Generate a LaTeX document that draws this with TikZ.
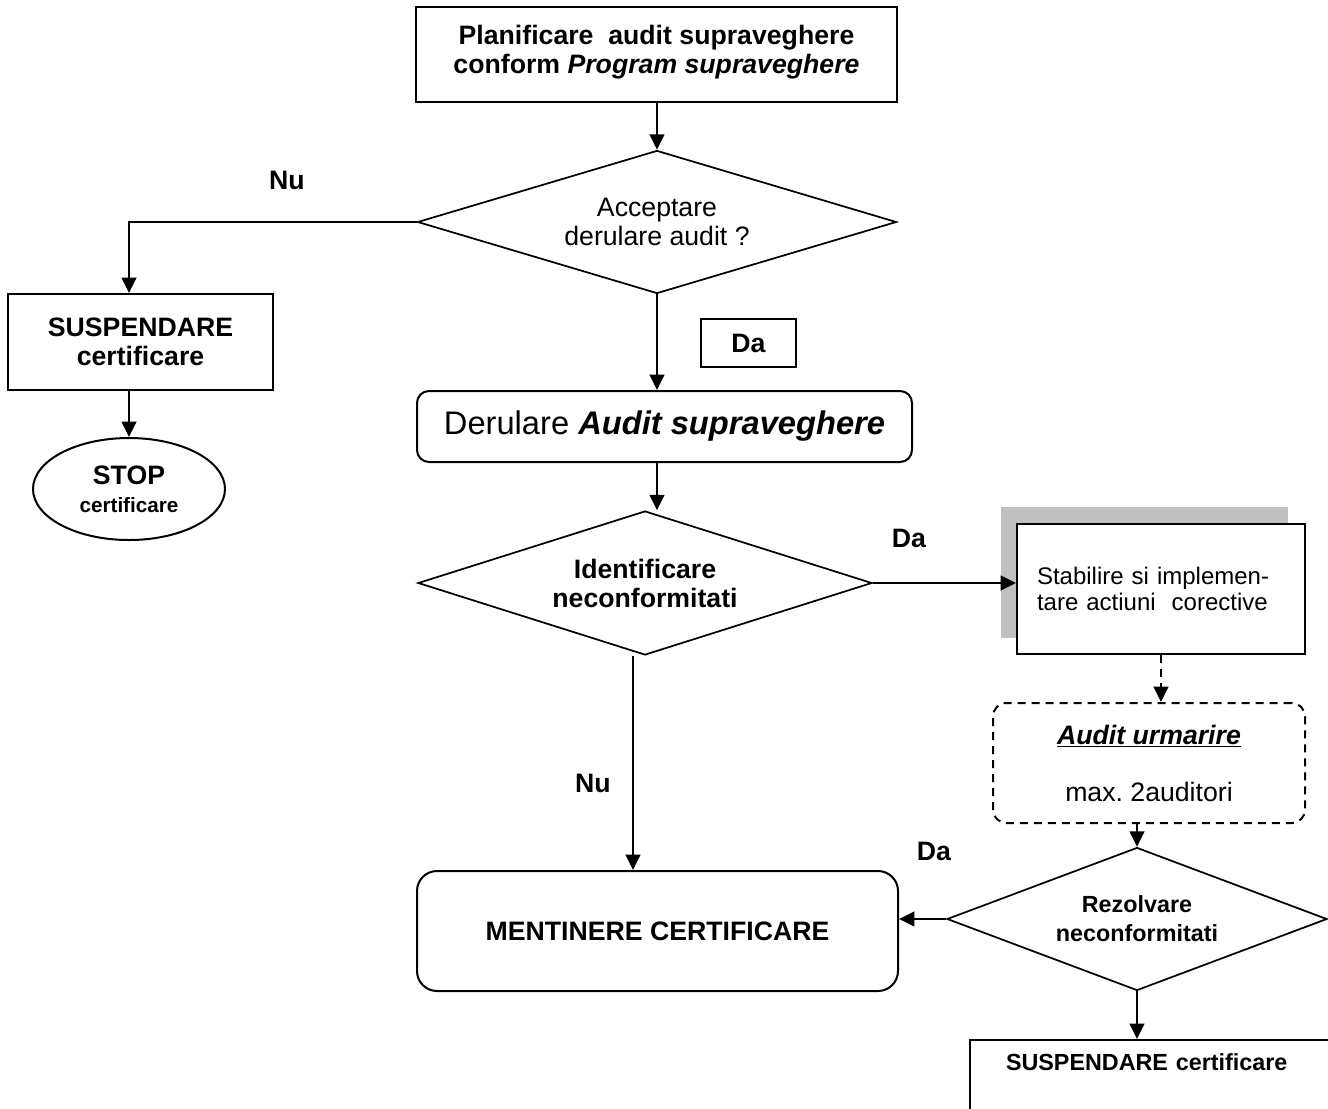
\documentclass[tikz,border=0pt]{standalone}
\usepackage{fontspec}
\setmainfont{Liberation Sans}
\usetikzlibrary{shapes.geometric,arrows.meta}
\newcommand\pxu{0.75pt}
\definecolor{shadowgray}{HTML}{C0C0C0}
\frenchspacing
\begin{document}
\begin{tikzpicture}[x=0.75pt,y=-0.75pt,
  every node/.style={font=\fontsize{20pt}{21.75pt}\selectfont, inner sep=0pt},
  thick line/.style={line width=1.5pt},
  arr/.style={line width=1.5pt,-{Triangle[length=11.5pt,width=11pt]}},
  boxr/.style={draw,line width=1.5pt,rectangle,align=center},
  dia/.style={draw,line width=1.3pt,diamond,align=center,aspect=3},
  bold/.style={font=\bfseries\fontsize{20pt}{21.75pt}\selectfont},
  boldsmall/.style={font=\bfseries\fontsize{17.5pt}{21.75pt}\selectfont},
  lbl/.style={bold}
]
\useasboundingbox (0,0) rectangle (1328,1108);
\fill[white] (0,0) rectangle (1328,1108);

% top box
\node[boxr, bold, minimum width=481*\pxu, minimum height=95*\pxu] (top) at (656.5,54)
  {Planificare\ \ audit supraveghere\\conform \textit{Program supraveghere}\\[-15pt]\mbox{}};

% decision 1
\node[dia, minimum width=479*\pxu, minimum height=143*\pxu] (d1) at (657,222)
  {Acceptare\\derulare audit ?};

% left branch
\node[boxr, bold, minimum width=265*\pxu, minimum height=96*\pxu] (s1) at (140.5,342)
  {SUSPENDARE\\certificare};
\node[draw, thick line, ellipse, minimum width=192*\pxu, minimum height=102*\pxu, align=center] (e1) at (129,489)
  {{\bfseries STOP}\\[-1pt]{\bfseries\fontsize{15.5pt}{17pt}\selectfont certificare}};

% Da box
\node[boxr, bold, minimum width=95*\pxu, minimum height=48*\pxu] (dabox) at (748.5,343) {Da};

% Derulare
\node[draw, thick line, rounded corners=9pt, minimum width=495*\pxu, minimum height=71*\pxu] (der) at (664.5,426.5)
  {\fontsize{24.5pt}{26pt}\selectfont Derulare \textbf{\textit{Audit supraveghere}}};

% decision 2
\node[dia, bold, minimum width=454*\pxu, minimum height=144*\pxu] (d2) at (645,583)
  {Identificare\\neconformitati};

% corrective actions with shadow
\fill[shadowgray] (1001,507) rectangle (1288,638);
\node[draw, thick line, fill=white, minimum height=130*\pxu, text width=248*\pxu, inner xsep=20*\pxu,
  align=left, font=\fontsize{18pt}{19.5pt}\selectfont] (stab) at (1161,589)
  {Stabilire si implemen-\\tare actiuni\ \ corective};

% follow-up audit
\node[draw, thick line, dash pattern=on 6pt off 4.5pt, rounded corners=10pt, minimum width=312*\pxu,
  minimum height=120*\pxu, align=center] (aud) at (1149,763)
  {\textbf{\textit{\underline{Audit urmarire}}}\\[21pt]max. 2auditori};

% decision 3
\node[dia, boldsmall, minimum width=380*\pxu, minimum height=143*\pxu] (d3) at (1137,919)
  {Rezolvare\\neconformitati};

% keep certificate
\node[draw, thick line, bold, rounded corners=15pt, minimum width=481*\pxu, minimum height=120*\pxu] (m) at (657.5,931)
  {MENTINERE CERTIFICARE};

% bottom suspension
\node[draw, thick line, boldsmall, anchor=north west, text width=400*\pxu, inner xsep=36*\pxu, inner ysep=14*\pxu,
  align=left] (sb) at (969,1039) {SUSPENDARE certificare\\\mbox{}};

% labels
\node[lbl] (nu1) at (287,180) {Nu};
\node[lbl] (da2) at (909,538) {Da};
\node[lbl] (nu2) at (593,783) {Nu};
\node[lbl] (da3) at (934,851) {Da};

% connectors
\draw[arr] (d1.north |- top.south) -- (d1.north);
\draw[arr] (d1.west) -| (e1.north |- s1.north);
\draw[arr] (e1.north |- s1.south) -- (e1.north);
\draw[arr] (d1.south) -- (d1.south |- der.north);
\draw[arr] (d1.south |- der.south) -- (d1.south |- d2.north);
\draw[arr] (d2.east) -- (d2.east -| stab.west);
\draw[arr, dash pattern=on 6pt off 4.5pt] (stab.south) -- (stab.south |- aud.north);
\draw[arr] (d3.north |- aud.south) -- (d3.north);
\draw[arr] (d3.west) -- (d3.west -| m.east);
\draw[arr] (d3.south) -- (d3.south |- sb.north);
\coordinate (nus) at (633,656);
\draw[arr] (nus) -- (nus |- m.north);
\end{tikzpicture}
\end{document}
